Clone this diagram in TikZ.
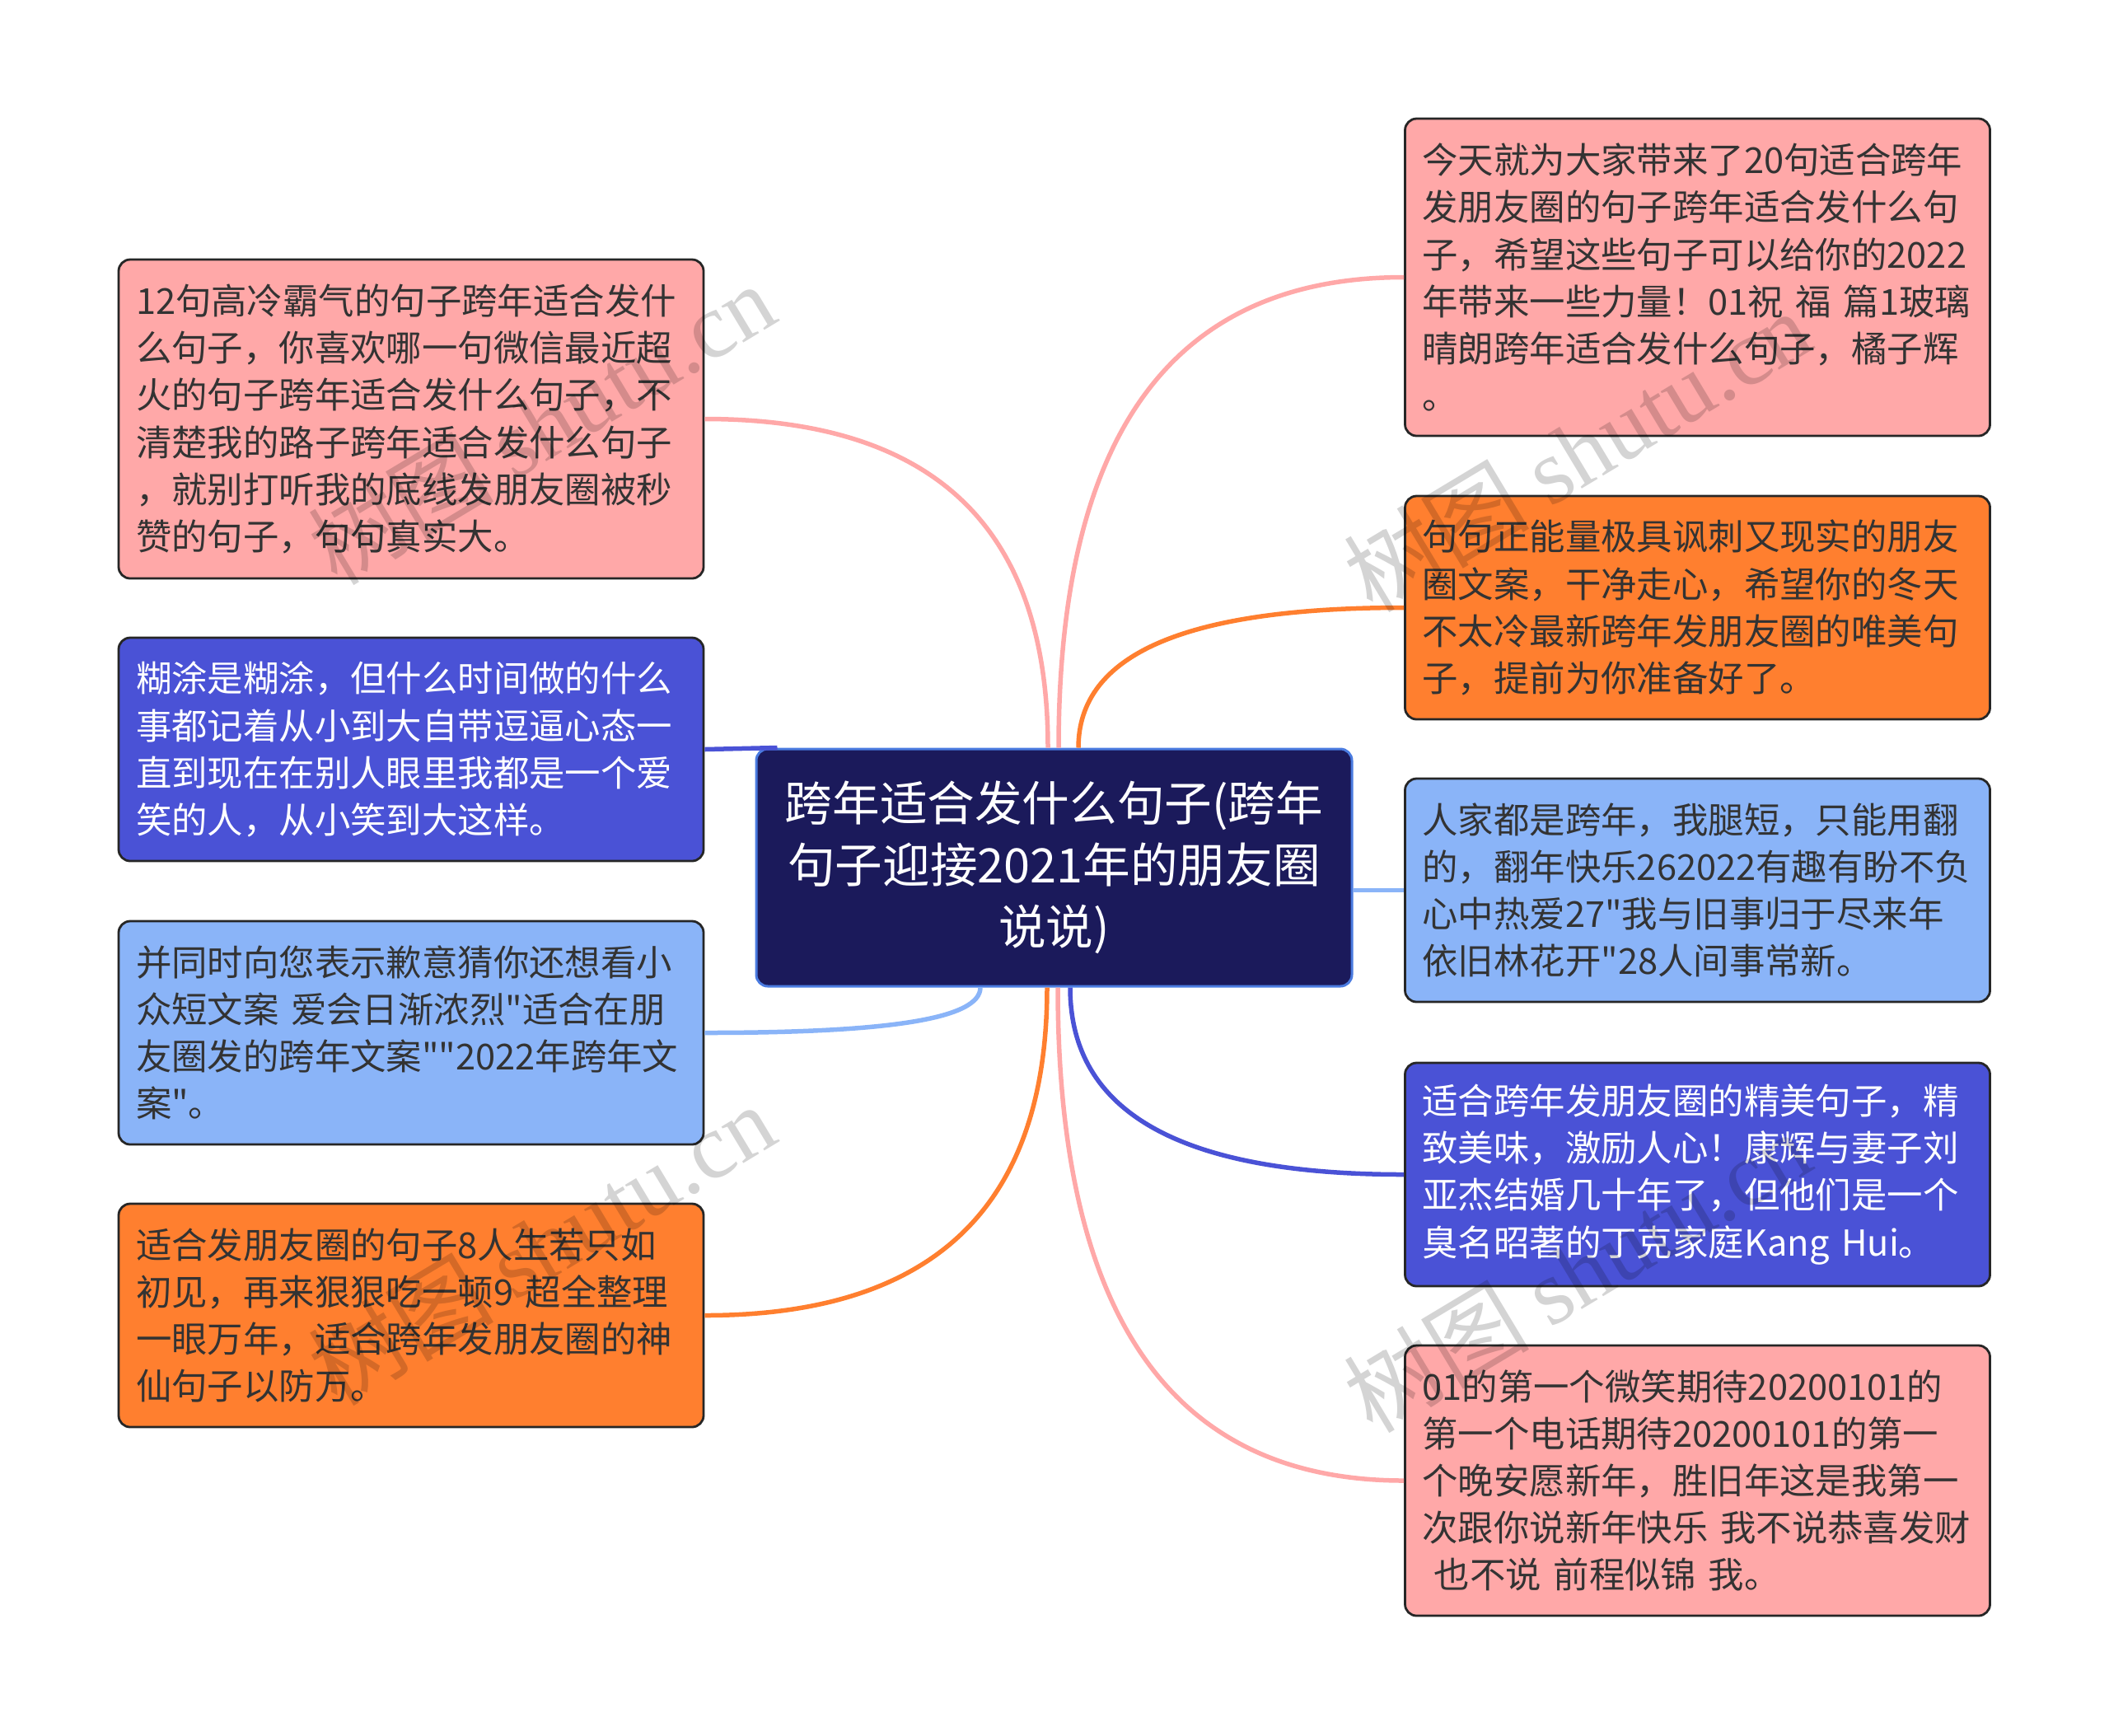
\documentclass[tikz,border=0pt]{standalone}
\usepackage{fontspec}
\setmainfont{Noto Sans CJK SC}[Ligatures=TeXOff]
\newfontfamily\wmfont{Liberation Serif}
\usepackage{xcolor}
\definecolor{pinkbox}{HTML}{FFA8A8}
\definecolor{orangebox}{HTML}{FF7F2F}
\definecolor{skybox}{HTML}{8AB4F8}
\definecolor{indigobox}{HTML}{4A52D6}
\definecolor{navyroot}{HTML}{1B1A5B}
\definecolor{rootedge}{HTML}{4A7BE0}
\definecolor{textdark}{HTML}{333333}

\begin{document}
\begin{tikzpicture}[x=1cm, y=-1cm,
    leaf/.style={draw=black!85, line width=0.028cm, rounded corners=0.14cm,
        text width=6.68cm, inner xsep=0.21cm, inner ysep=0.1cm, align=left,
        minimum width=7.10cm, font=\fontsize{12.35}{16.25}\selectfont},
    pinkleaf/.style={leaf, fill=pinkbox, text=textdark},
    orangeleaf/.style={leaf, fill=orangebox, text=textdark},
    skyleaf/.style={leaf, fill=skybox, text=textdark},
    indigoleaf/.style={leaf, fill=indigobox, text=white},
    root/.style={draw=rootedge, line width=0.03cm, rounded corners=0.14cm,
        fill=navyroot, text=white, align=center, minimum width=7.23cm,
        minimum height=2.88cm, font=\fontsize{16.4}{21.4}\selectfont},
    branch/.style={line width=0.055cm},
    watermark/.style={text=black, text opacity=0.17, rotate=31,
        font=\fontsize{32}{36}\selectfont}
]

    % Page
    \fill[white] (0,0) rectangle (25.60,21.06);
    \useasboundingbox (0,0) rectangle (25.60,21.06);

    % Centre topic
    \node[root] (topic) at (12.795,10.53) {跨年适合发什么句子(跨年\\句子迎接2021年的朋友圈\\说说)};

    % Left side
    \node[pinkleaf, minimum height=3.87cm] (left1) at (4.99,5.085) {12句高冷霸气的句子跨年适合发什\\么句子，你喜欢哪一句微信最近超\\火的句子跨年适合发什么句子，不\\清楚我的路子跨年适合发什么句子\\，就别打听我的底线发朋友圈被秒\\赞的句子，句句真实大。};
    \node[indigoleaf, minimum height=2.71cm] (left2) at (4.99,9.095) {糊涂是糊涂，但什么时间做的什么\\事都记着从小到大自带逗逼心态一\\直到现在在别人眼里我都是一个爱\\笑的人，从小笑到大这样。};
    \node[skyleaf, minimum height=2.71cm] (left3) at (4.99,12.535) {并同时向您表示歉意猜你还想看小\\众短文案 爱会日渐浓烈"适合在朋\\友圈发的跨年文案""2022年跨年文\\案"。};
    \node[orangeleaf, minimum height=2.71cm] (left4) at (4.99,15.965) {适合发朋友圈的句子8人生若只如\\初见，再来狠狠吃一顿9 超全整理\\一眼万年，适合跨年发朋友圈的神\\仙句子以防万。};

    % Right side
    \node[pinkleaf, minimum height=3.85cm] (right1) at (20.605,3.365) {今天就为大家带来了20句适合跨年\\发朋友圈的句子跨年适合发什么句\\子，希望这些句子可以给你的2022\\年带来一些力量！01祝 福 篇1玻璃\\晴朗跨年适合发什么句子，橘子辉\\。};
    \node[orangeleaf, minimum height=2.71cm] (right2) at (20.605,7.375) {句句正能量极具讽刺又现实的朋友\\圈文案，干净走心，希望你的冬天\\不太冷最新跨年发朋友圈的唯美句\\子，提前为你准备好了。};
    \node[skyleaf, minimum height=2.71cm] (right3) at (20.605,10.805) {人家都是跨年，我腿短，只能用翻\\的，翻年快乐262022有趣有盼不负\\心中热爱27"我与旧事归于尽来年\\依旧林花开"28人间事常新。};
    \node[indigoleaf, minimum height=2.71cm] (right4) at (20.605,14.255) {适合跨年发朋友圈的精美句子，精\\致美味，激励人心！康辉与妻子刘\\亚杰结婚几十年了，但他们是一个\\臭名昭著的丁克家庭Kang Hui。};
    \node[pinkleaf, minimum height=3.28cm] (right5) at (20.605,17.97) {01的第一个微笑期待20200101的\\第一个电话期待20200101的第一\\个晚安愿新年，胜旧年这是我第一\\次跟你说新年快乐 我不说恭喜发财\\\ 也不说 前程似锦 我。};

    % Branches
    \draw[branch, pinkbox] ([xshift=-0.075cm]topic.north) .. controls +(0,-2.67) and +(2.79,0) .. (left1.east);
    \draw[branch, indigobox] ([xshift=0.27cm]topic.north west) -- (left2.east);
    \draw[branch, skybox] ([xshift=-0.895cm]topic.south) .. controls +(0,0.38) and +(2.24,0) .. (left3.east);
    \draw[branch, orangebox] ([xshift=-0.085cm]topic.south) .. controls +(0,2.66) and +(2.78,0) .. (left4.east);
    \draw[branch, pinkbox] ([xshift=0.055cm]topic.north) .. controls +(0,-3.82) and +(-2.80,0) .. (right1.west);
    \draw[branch, orangebox] ([xshift=0.295cm]topic.north) .. controls +(0,-1.14) and +(-2.64,0) .. (right2.west);
    \draw[branch, skybox] (topic.east |- right3.west) -- (right3.west);
    \draw[branch, indigobox] ([xshift=0.195cm]topic.south) .. controls +(0,1.52) and +(-2.71,0) .. (right4.west);
    \draw[branch, pinkbox] ([xshift=0.045cm]topic.south) .. controls +(0,4.0) and +(-2.81,0) .. (right5.west);

    % Watermarks
    \foreach \i/\p in {1/{6.57,5.14}, 2/{19.14,5.47}, 3/{6.57,15.10}, 4/{19.14,15.43}} {
        \node[watermark] (mark\i) at (\p) {树图 {\wmfont shutu.cn}};
    }

\end{tikzpicture}
\end{document}
